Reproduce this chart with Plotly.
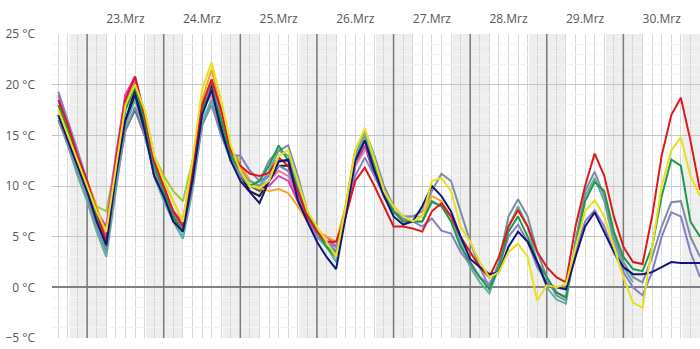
import plotly.graph_objects as go

# hours since 22.Mrz 00:00, 3-hourly
hours = list(range(15, 217, 3))  # 68 steps
N = len(hours)

day_labels = ["23.Mrz", "24.Mrz", "25.Mrz", "26.Mrz", "27.Mrz", "28.Mrz", "29.Mrz", "30.Mrz"]
day_label_hours = [36, 60, 84, 108, 132, 156, 180, 204]
midnight_hours = [24, 48, 72, 96, 120, 144, 168, 192]
y_ticks = [-5, 0, 5, 10, 15, 20, 25]
y_ticktext = ["\u22125 \u00b0C", "0 \u00b0C", "5 \u00b0C", "10 \u00b0C", "15 \u00b0C", "20 \u00b0C", "25 \u00b0C"]

red = [18.5, 16.0, 13.0, 10.5, 7.5, 4.5, 12.5, 18.5, 20.8, 17.0, 12.5, 10.0, 7.5, 6.0, 11.5, 18.0, 20.5, 17.5, 13.5, 12.0,
       11.2, 11.0, 11.3, 12.8, 12.0, 9.5, 7.0, 5.5, 4.5, 4.5,
       7.0, 10.5, 11.8, 10.0, 8.0, 6.0, 6.0, 5.8,
       5.5, 7.5, 8.3, 7.0, 5.0, 3.5, 2.0, 1.0,
       3.0, 6.0, 7.6, 6.0, 3.5, 2.0, 1.0, 0.5,
       6.0, 10.0, 13.2, 11.0, 7.0, 4.0, 2.5, 2.3,
       7.0, 13.0, 17.0, 18.7, 14.5, 9.6]
green = [18.0, 15.5, 12.5, 10.0, 7.0, 4.0, 11.5, 17.5, 19.8, 16.5, 12.0, 9.5, 7.0, 5.5, 11.0, 17.5, 19.5, 16.5, 13.0, 11.5,
         10.0, 10.5, 12.0, 14.0, 12.5, 9.5, 7.5, 5.5, 4.0, 3.0,
         7.5, 12.5, 14.5, 12.0, 9.0, 7.5, 6.5, 6.5,
         6.5, 8.5, 8.0, 6.5, 4.0, 2.5, 1.0, -0.2,
         2.0, 5.5, 7.0, 5.0, 2.5, 1.0, -0.5, -1.0,
         4.0, 8.5, 10.4, 9.5, 5.5, 3.0, 1.8, 1.6,
         4.0, 9.0, 12.6, 12.0, 6.5, 5.0]
navy = [17.0, 14.5, 12.0, 9.5, 6.5, 4.2, 11.0, 16.5, 19.0, 15.5, 11.0, 9.0, 6.5, 5.5, 10.5, 17.0, 19.5, 15.5, 12.5, 10.5,
        9.4, 8.3, 10.5, 12.4, 12.6, 8.6, 6.5, 4.5, 3.0, 1.8,
        7.0, 12.5, 14.5, 11.5, 9.0, 7.0, 6.2, 6.5,
        8.0, 10.0, 9.0, 7.5, 5.0, 2.8, 2.0, 1.3,
        1.5, 4.0, 5.5, 4.5, 2.5, 0.2, 0.0, -0.2,
        3.0, 6.0, 7.4, 5.5, 3.5, 2.0, 1.3, 1.3,
        1.5, 2.0, 2.5, 2.4, 2.4, 2.4]
slate = [16.5, 14.0, 11.5, 9.0, 6.0, 3.5, 10.0, 15.5, 17.8, 15.0, 11.5, 9.0, 7.0, 5.5, 10.0, 16.0, 18.0, 15.0, 13.0, 11.0,
         10.0, 10.5, 12.5, 13.5, 14.0, 11.0, 7.5, 5.5, 4.5, 3.5,
         8.0, 13.5, 15.5, 13.0, 10.0, 8.0, 7.0, 7.0,
         7.5, 9.5, 11.2, 10.5, 7.5, 4.5, 2.0, 0.0,
         2.5, 7.0, 8.7, 7.0, 3.5, 1.0, -0.8, -1.3,
         4.5, 9.5, 11.4, 9.0, 5.0, 2.5, 1.0, 0.5,
         3.0, 6.0, 8.4, 8.5, 5.0, 3.0]
purple = [19.3, 16.5, 13.5, 10.5, 7.0, 5.0, 12.0, 18.0, 20.2, 17.0, 12.0, 9.5, 7.5, 6.0, 11.0, 17.0, 20.5, 16.5, 13.0, 13.0,
          11.5, 10.5, 11.0, 12.0, 11.5, 9.0, 7.0, 5.0, 4.5, 4.0,
          7.0, 11.0, 12.8, 11.0, 9.0, 7.5, 6.8, 6.5,
          6.0, 6.8, 5.6, 5.3, 3.5, 2.2, 1.0, 0.3,
          2.0, 5.0, 6.2, 4.5, 2.0, 0.5, -0.5, -1.0,
          3.5, 6.5, 7.6, 6.0, 3.5, 1.5, 0.0, -0.8,
          1.5, 5.0, 7.4, 7.0, 3.5, 1.0]
yellow = [17.5, 15.0, 12.5, 10.0, 7.5, 5.5, 12.0, 18.0, 20.0, 17.5, 13.0, 10.5, 8.5, 6.5, 12.5, 19.5, 22.2, 18.5, 14.0, 11.5,
          10.0, 9.8, 10.5, 13.0, 13.5, 10.5, 7.5, 6.0, 4.5, 3.0,
          8.0, 13.5, 15.7, 12.5, 9.5, 8.0, 7.0, 6.5,
          7.0, 10.5, 10.8, 9.5, 6.0, 4.5, 2.5, 1.0,
          1.5, 3.5, 4.3, 3.0, -1.3, 0.2, 0.0, 0.3,
          4.0, 7.5, 8.6, 7.0, 4.0, 1.0, -1.5, -2.0,
          4.0, 10.0, 13.5, 14.8, 11.0, 9.0]
teal = [17.0, 14.0, 11.0, 8.5, 5.5, 3.0, 9.5, 16.0, 18.5, 15.5, 11.0, 8.5, 6.5, 4.8, 9.5, 16.0, 18.5, 15.0, 12.5, 11.0,
        10.5, 10.0, 11.5, 13.5, 13.0, 10.0, 7.0, 5.0, 4.0, 2.5,
        7.5, 13.0, 15.0, 12.0, 9.5, 7.5, 6.5, 6.5,
        6.5, 8.4, 8.0, 7.0, 4.5, 2.0, 0.5, -0.6,
        2.0, 6.0, 8.0, 6.0, 2.5, 0.0, -1.2, -1.6,
        4.5, 9.0, 10.8, 8.5, 4.5, 2.0, 0.5]
orange = [18.0, 15.5, 13.0, 10.5, 8.0, 5.0, 12.0, 18.0, 20.0, 17.5, 13.0, 10.5, 8.5, 6.5, 12.0, 18.5, 21.5, 17.5, 13.5, 12.0,
          10.5, 9.8, 9.5, 9.7, 9.3, 8.0, 6.5, 5.5, 5.0, 4.5,
          8.0, 13.5, 15.2, 12.5, 9.5, 7.5, 7.0, 7.0,
          7.0, 9.0, 8.5, 7.0]
magenta = [19.0, 16.0, 13.0, 10.5, 7.5, 6.0, 13.0, 19.0, 20.8, 17.0, 12.5, 9.5, 7.5, 6.5, 12.0, 18.0, 20.0, 16.0, 12.5, 12.0,
           10.5, 10.0, 10.0, 11.0, 10.5, 8.5, 6.5, 5.5, 5.0, 4.0,
           7.5, 12.5, 14.0, 11.5, 9.0, 7.5]
pink = [18.5, 16.0, 12.5, 10.0, 7.0, 6.0, 12.5, 19.0, 20.5, 16.5, 12.0, 9.5, 7.5, 6.0, 11.5, 17.5, 19.0, 15.5, 12.5, 11.5,
        10.5, 10.0, 10.5, 11.5, 11.0, 8.5, 6.5, 5.0, 4.5, 4.0,
        7.0, 12.0, 13.5]
cyan = [17.5, 15.0, 12.0, 9.5, 6.5, 4.0, 10.5, 16.5, 19.0, 15.5, 11.5, 9.0, 6.5, 5.0, 10.5, 16.5, 18.5, 15.0, 13.0, 11.5,
        10.5, 10.0, 11.0, 12.0, 11.5, 9.0, 6.5, 5.0, 4.0, 3.5]
black = [17.0, 14.5, 12.0, 9.5, 6.5, 4.5, 11.0, 16.5, 19.5, 16.0, 11.0, 9.0, 7.0, 5.5, 11.0, 17.5, 20.0, 16.0, 12.5, 11.0,
         9.5, 9.0, 10.5, 12.0, 12.0, 9.5, 7.0, 5.5, 4.5, 3.5,
         7.5, 13.0, 15.0, 12.0, 9.0, 7.5, 6.8, 6.5]
lime = [18.0, 15.0, 12.5, 10.5, 8.0, 7.5, 12.5, 18.0, 20.0, 17.0, 13.0, 11.0, 9.5, 8.5, 12.5, 18.0, 20.5, 17.0, 13.5, 12.5]
darkgray = [16.5, 14.5, 12.0, 9.0, 6.5, 4.0, 10.5, 15.5, 17.5, 15.0, 11.5, 9.0, 7.0, 5.5, 10.5, 16.0, 18.5, 15.5, 13.0, 11.5,
            10.0, 9.5, 10.5, 12.5, 12.5, 9.5, 7.0, 5.0, 4.0, 3.0,
            7.0, 12.0, 14.0, 11.0]

series = [
    (darkgray, "#5a5a5a"),
    (lime, "#9ccc3c"),
    (cyan, "#3fd0e8"),
    (pink, "#f07898"),
    (magenta, "#e03cc0"),
    (black, "#1e1e1e"),
    (orange, "#f5a524"),
    (teal, "#5fb0a0"),
    (slate, "#7b8ea6"),
    (purple, "#8a7ccc"),
    (green, "#1f9a4c"),
    (red, "#e01818"),
    (navy, "#14147a"),
    (yellow, "#e8e01c"),
]


def pad(v):
    return list(v) + [None] * (N - len(v))


fig = go.Figure()

# day separator lines (drawn first so data lines sit above them)
sep_x, sep_y = [], []
for h in midnight_hours:
    sep_x += [h, h, None]
    sep_y += [-5, 25, None]
fig.add_trace(go.Scatter(x=sep_x, y=sep_y, mode="lines", line=dict(color="#7a7a7a", width=1.5),
                         showlegend=False, hoverinfo="skip", cliponaxis=True))

for vals, col in series:
    fig.add_trace(go.Scatter(x=hours, y=pad(vals), mode="lines",
                             line=dict(color=col, width=2), showlegend=False,
                             hoverinfo="skip", connectgaps=False))

shapes = []
# night shading
for k in range(0, 9):
    shapes.append(dict(type="rect", xref="x", yref="paper", x0=24 * k + 18.5, x1=24 * (k + 1) + 6.0,
                       y0=0, y1=1, fillcolor="#eeeeee", line=dict(width=0), layer="below"))

fig.update_layout(
    width=700, height=349,
    margin=dict(l=52, r=0, t=34, b=11),
    paper_bgcolor="white", plot_bgcolor="white",
    shapes=shapes,
    font=dict(family="Open Sans, sans-serif", size=12, color="#555555"),
    xaxis=dict(range=[13, 216], side="top", tickmode="array", tickvals=day_label_hours,
               ticktext=day_labels, showgrid=False, zeroline=False, showline=False, ticks="",
               ticklabelstandoff=8,
               minor=dict(tick0=0, dtick=3, showgrid=True, gridcolor="#d6d6d6", gridwidth=1)),
    yaxis=dict(range=[-5, 25], tickmode="array", tickvals=y_ticks, ticktext=y_ticktext,
               showgrid=True, gridcolor="#c4c4c4", gridwidth=1, zeroline=True,
               zerolinecolor="#808080", zerolinewidth=2, showline=False, ticks="",
               ticklabelstandoff=16,
               minor=dict(dtick=1, showgrid=True, gridcolor="#f3f3f3", gridwidth=1)),
)

fig.write_html("out.html")
